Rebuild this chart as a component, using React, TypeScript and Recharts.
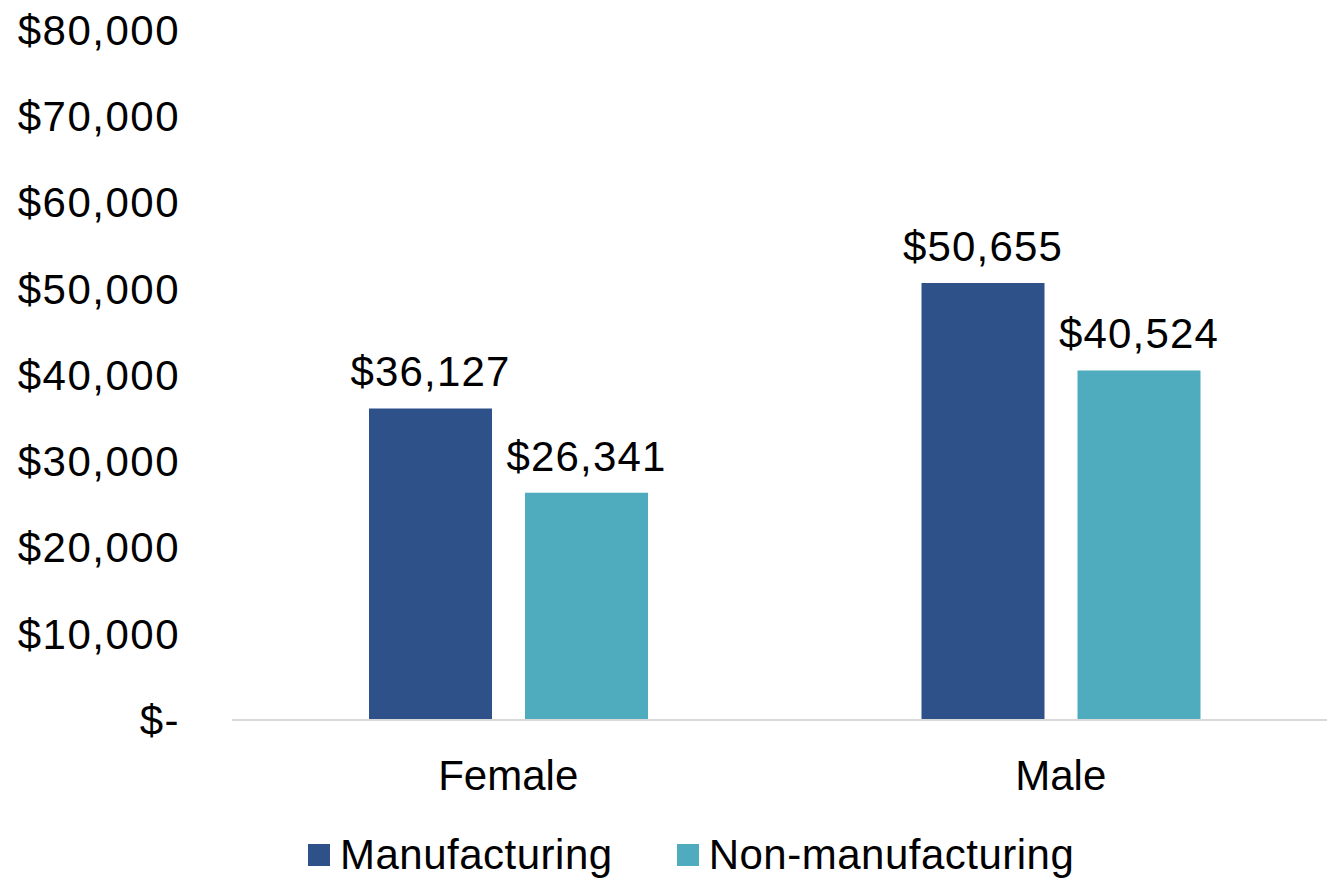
import React from "react";
import {
  BarChart,
  Bar,
  XAxis,
  YAxis,
  LabelList,
  Legend,
} from "recharts";

const categories = ["Female", "Male"];
const manufacturing = [36127, 50655];
const nonManufacturing = [26341, 40524];
const yTicks = [0, 10000, 20000, 30000, 40000, 50000, 60000, 70000, 80000];

const data = categories.map((c, i) => ({
  name: c,
  manufacturing: manufacturing[i],
  nonManufacturing: nonManufacturing[i],
}));

const FONT = "'Liberation Sans', Arial, sans-serif";

const money = (v: number) => (v === 0 ? "$-" : "$" + v.toLocaleString("en-US"));

const legendItems = [
  { label: "Manufacturing", color: "#2E518A" },
  { label: "Non-manufacturing", color: "#4FACBF" },
];

function MyLegend() {
  return (
    <div style={{ display: "flex", alignItems: "center", fontFamily: FONT, fontSize: 42, color: "#000", letterSpacing: 0.5, lineHeight: "48px" }}>
      {legendItems.map((it, i) => (
        <div key={it.label} style={{ display: "flex", alignItems: "center", marginRight: i === 0 ? 64 : 0 }}>
          <span style={{ width: 22, height: 22, background: it.color, display: "inline-block", marginRight: 10 }} />
          <span>{it.label}</span>
        </div>
      ))}
    </div>
  );
}

export default function App() {
  return (
    <div style={{ position: "absolute", left: 0, top: 0, width: 1327, height: 879, overflow: "hidden", background: "#fff" }}>
      <BarChart
        width={1342}
        height={879}
        data={data}
        margin={{ top: 30, right: 5, left: 0, bottom: 21 }}
        barSize={123}
        barGap={33}
      >
        <XAxis
          dataKey="name"
          height={90}
          axisLine={{ stroke: "#d9d9d9", strokeWidth: 2 }}
          tickLine={false}
          tickSize={0}
          tickMargin={40}
          tick={{ fill: "#000", fontSize: 42, fontFamily: FONT }}
        />
        <YAxis
          width={232}
          domain={[0, 80000]}
          ticks={yTicks}
          interval={0}
          axisLine={false}
          tickLine={false}
          tickSize={0}
          tickMargin={52}
          tickFormatter={money}
          tick={{ fill: "#000", fontSize: 42, fontFamily: FONT, letterSpacing: 1.5 }}
        />
        <Legend
          verticalAlign="bottom"
          content={<MyLegend />}
          wrapperStyle={{ left: 308, top: 831, width: "auto" }}
        />
        <Bar dataKey="manufacturing" fill="#2E518A" isAnimationActive={false}>
          <LabelList
            dataKey="manufacturing"
            position="top"
            offset={22}
            formatter={(v: any) => money(Number(v))}
            style={{ fill: "#000", fontSize: 42, fontFamily: FONT, letterSpacing: 1.2 }}
          />
        </Bar>
        <Bar dataKey="nonManufacturing" fill="#4FACBF" isAnimationActive={false}>
          <LabelList
            dataKey="nonManufacturing"
            position="top"
            offset={22}
            formatter={(v: any) => money(Number(v))}
            style={{ fill: "#000", fontSize: 42, fontFamily: FONT, letterSpacing: 1.2 }}
          />
        </Bar>
      </BarChart>
    </div>
  );
}
